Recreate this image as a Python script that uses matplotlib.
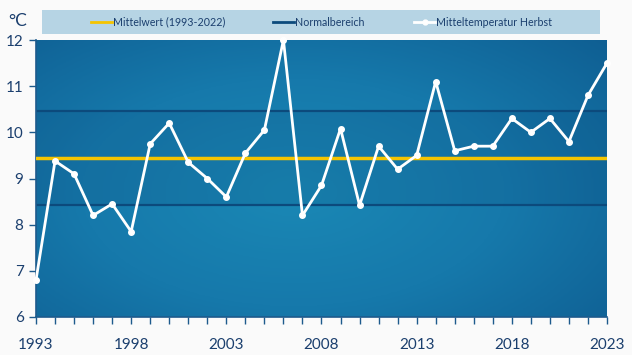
import numpy as np
import matplotlib
matplotlib.use("Agg")
import matplotlib.pyplot as plt
from matplotlib.colors import LinearSegmentedColormap
from matplotlib.patches import Rectangle
from matplotlib.lines import Line2D

years = list(range(1993, 2024))
temps = [6.8, 9.38, 9.1, 8.2, 8.45, 7.85, 9.75, 10.2, 9.35, 9.0,
         8.6, 9.55, 10.05, 12.0, 8.2, 8.85, 10.08, 8.42, 9.7, 9.2,
         9.5, 11.1, 9.6, 9.7, 9.7, 10.3, 10.0, 10.3, 9.8, 10.8, 11.5]
mean_value = 9.45
normal_low = 8.42
normal_high = 10.47
x_tick_labels = [1993, 1998, 2003, 2008, 2013, 2018, 2023]
y_ticks = [6, 7, 8, 9, 10, 11, 12]
legend_labels = ["Mittelwert (1993-2022)", "Normalbereich", "Mitteltemperatur Herbst"]

navy = "#1b3f6e"
fig = plt.figure(figsize=(6.32, 3.55), dpi=100, facecolor="#fafafa")
ax = fig.add_axes([36/632, 1-317/355, (607-36)/632, (317-40)/355])
ax.set_xlim(1993, 2023)
ax.set_ylim(6, 12)

# background gradient
ny, nx = 200, 400
yy, xx = np.mgrid[0:1:ny*1j, 0:1:nx*1j]
d = np.sqrt(((xx-0.45)/0.9)**2 + ((yy-0.45)/1.0)**2)
val = np.clip(1 - d, 0, 1)
cmap = LinearSegmentedColormap.from_list("bg", ["#0f5f93", "#1679ab", "#1a88b5"])
ax.imshow(val, extent=[1993, 2023, 6, 12], aspect="auto", cmap=cmap, zorder=0, origin="lower")
ax.axhspan(normal_low, normal_high, color="#0a3d6e", alpha=0.15, lw=0, zorder=1)

ax.axhline(normal_high, color="#0c4a7c", lw=1.6, zorder=2)
ax.axhline(normal_low, color="#0c4a7c", lw=1.6, zorder=2)
ax.axhline(mean_value, color="#f5c400", lw=2.5, zorder=3)
ax.plot(years, temps, color="white", lw=2, marker="o", ms=4, zorder=4, clip_on=False)

ax.set_xticks(x_tick_labels)
ax.set_xticks(years, minor=True)
ax.set_yticks(y_ticks)
for s in ["top", "right"]:
    ax.spines[s].set_visible(False)
for s in ["left", "bottom"]:
    ax.spines[s].set_color("#1d5a8c")
    ax.spines[s].set_linewidth(1.2)
ax.tick_params(axis="both", which="both", colors="#1d5a8c", labelcolor=navy,
               direction="out", length=5, width=1, labelsize=11)
ax.tick_params(axis="x", which="major", pad=10)
ax.tick_params(axis="y", pad=4)
for lbl in ax.get_xticklabels() + ax.get_yticklabels():
    lbl.set_fontfamily("Lato")

fig.text(8/632, 1-21/355, "°C", fontsize=12.5, color=navy, family="Lato", va="center", ha="left")

# legend box
fig.patches.append(Rectangle((42/632, 1-34/355), (600-42)/632, 24/355,
                             transform=fig.transFigure, facecolor="#b6d4e4",
                             edgecolor="none", zorder=0))
ly = 1-22/355
fig.add_artist(Line2D([91/632, 112/632], [ly, ly], color="#f5c400", lw=2, transform=fig.transFigure))
fig.text(113/632, ly, legend_labels[0], fontsize=7.7, color=navy, family="Lato", va="center")
fig.add_artist(Line2D([273/632, 294/632], [ly, ly], color="#0c4a7c", lw=2, transform=fig.transFigure))
fig.text(295/632, ly, legend_labels[1], fontsize=7.7, color=navy, family="Lato", va="center")
fig.add_artist(Line2D([414/632, 435/632], [ly, ly], color="white", lw=2, transform=fig.transFigure))
fig.add_artist(Line2D([424.5/632], [ly], color="white", marker="o", ms=3.5, transform=fig.transFigure))
fig.text(436/632, ly, legend_labels[2], fontsize=7.7, color=navy, family="Lato", va="center")

fig.savefig("out.png", dpi=100, facecolor=fig.get_facecolor())
